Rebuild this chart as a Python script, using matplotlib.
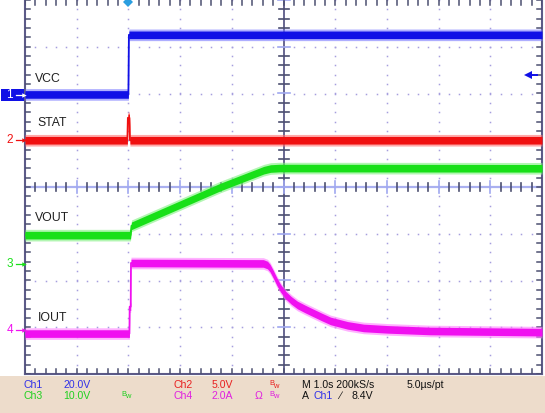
import numpy as np
import matplotlib
matplotlib.use("Agg")
import matplotlib.pyplot as plt
from matplotlib.patches import Rectangle

# ---------------- data (time in s from trigger, values in V / A) ----------------
vcc_t = [-2.0, 0.0, 0.01, 8.0]
vcc_v = [0.0, 0.0, 25.5, 25.5]

stat_t = [-2.0, -0.02, -0.01, 0.02, 0.03, 8.0]
stat_v = [0.0, 0.0, 2.4, 2.4, 0.0, 0.0]

vout_t = [-2.0, 0.04, 0.06, 1.78, 2.62, 2.75, 2.92, 8.0]
vout_v = [6.2, 6.2, 8.2, 16.5, 20.1, 20.45, 20.55, 20.5]

iout_t = [-2.0, 0.02, 0.025, 0.045, 0.05, 2.61, 2.69, 2.74, 2.80, 2.87, 2.94,
          3.04, 3.15, 3.27, 3.42, 3.58, 3.75, 3.91, 4.24, 4.55, 5.01, 5.84, 8.0]
iout_v = [-0.15, -0.15, 1.0, 1.0, 2.87, 2.85, 2.78, 2.65, 2.40, 2.08, 1.80,
          1.50, 1.27, 1.07, 0.90, 0.73, 0.55, 0.39, 0.20, 0.09, 0.03, -0.04, -0.09]

channels = ["Ch1", "Ch2", "Ch3", "Ch4"]
scales = [20.0, 5.0, 10.0, 2.0]          # per division
scale_labels = ["20.0V", "5.0V", "10.0V", "2.0A"]
offsets = [1.98, 1.0, -1.65, -3.06]       # ground marker, divisions
trace_names = ["VCC", "STAT", "VOUT", "IOUT"]
trig_level_label = "8.4V"
trig_level = 8.4

core = ["#1010e6", "#f01010", "#18e018", "#f010f0"]
edge = ["#7878ff", "#ff7070", "#80f080", "#ff80ff"]

W, H = 545, 413
fig = plt.figure(figsize=(W / 100, H / 100), dpi=100)
fig.patch.set_facecolor("white")

def fx(x):
    return x / W

def fy(y):
    return 1 - y / H

# beige info panel
fig.patches.append(Rectangle((0, 0), 1, fy(375.5), transform=fig.transFigure,
                             facecolor="#eddccb", edgecolor="none", zorder=0))

ax = fig.add_axes([fx(25), fy(374), (542 - 25) / W, 374 / H])
ax.set_xlim(-2, 8)
ax.set_ylim(-4, 4)
ax.axis("off")

px_x = 10 / 517.0   # data per pixel
px_y = 8 / 374.0

gridc = "#a69ede"
tickc = "#4c4f70"
# dotted grid
for gx in [-1, 0, 1, 2, 4, 5, 6, 7]:
    ys = np.arange(-4, 4.001, 0.2)
    ax.plot(np.full_like(ys, gx), ys, ls="none", marker="s", ms=1.1, mew=0,
            color=gridc, zorder=1)
for gy in [-3, -2, -1, 1, 2, 3]:
    xs = np.arange(-2, 8.001, 0.2)
    ax.plot(xs, np.full_like(xs, gy), ls="none", marker="s", ms=1.1, mew=0,
            color=gridc, zorder=1)

# center lines
ax.plot([-2, 8], [0, 0], color="#aab0f0", lw=1.6, zorder=2)
ax.plot([3, 3], [-4, 4], color="#5c5a88", lw=1.3, zorder=2)
for x in np.arange(-2, 8.001, 0.2):
    major = abs(x - round(x)) < 1e-6
    h = (6 if major else 4) * px_y
    ax.plot([x, x], [-h, h], color="#a0a8f0" if major else tickc, lw=1.2, zorder=2)
for y in np.arange(-4, 4.001, 0.2):
    major = abs(y - round(y)) < 1e-6
    w = (6 if major else 5) * px_x
    ax.plot([3 - w, 3 + w], [y, y], color="#a0a8f0" if major else tickc, lw=1.2, zorder=2)

# border with inward ticks
ax.plot([-2, -2], [-4, 4], color="#5c5a88", lw=1.5, zorder=2, clip_on=False)
ax.plot([8, 8], [-4, 4], color="#5c5a88", lw=1.5, zorder=2, clip_on=False)
ax.plot([-2, 8], [-4, -4], color="#5c5a88", lw=1.5, zorder=2, clip_on=False)
for x in np.arange(-2, 8.001, 0.2):
    ax.plot([x, x], [4, 4 - 5 * px_y], color=tickc, lw=1.1, zorder=2)
    ax.plot([x, x], [-4, -4 + 5 * px_y], color=tickc, lw=1.1, zorder=2)
for y in np.arange(-4, 4.001, 0.2):
    ax.plot([-2, -2 + 5 * px_x], [y, y], color=tickc, lw=1.1, zorder=2)
    ax.plot([8, 8 - 5 * px_x], [y, y], color=tickc, lw=1.1, zorder=2)

# traces
series = [(vcc_t, vcc_v), (stat_t, stat_v), (vout_t, vout_v), (iout_t, iout_v)]
for i, (t, v) in enumerate(series):
    t = np.asarray(t)
    y = offsets[i] + np.asarray(v) / scales[i]
    ax.fill_between(t, y - 5.8 * px_y, y + 5.8 * px_y, color=edge[i], lw=0,
                    alpha=0.6, zorder=3)
    ax.fill_between(t, y - 3.8 * px_y, y + 3.8 * px_y, color=core[i], lw=0,
                    zorder=4)
    ax.plot(t, y, color=core[i], lw=1.3, zorder=5)

# trace name labels
lab_pos = [(35, 79), (37, 123), (35, 218), (38, 318)]
for name, (x, y) in zip(trace_names, lab_pos):
    fig.text(fx(x), fy(y), name, fontsize=8.8, family="Liberation Sans",
             color="#202020", va="center", ha="left")

# channel ground markers at left
marker_y = [95, 140, 264, 330]
fig.patches.append(Rectangle((fx(1), fy(101)), fx(23), 12 / H,
                             transform=fig.transFigure, facecolor="#1010e6",
                             edgecolor="none"))
for i, y in enumerate(marker_y):
    c = "white" if i == 0 else core[i]
    fig.text(fx(13), fy(y), str(i + 1), fontsize=8.5, family="Liberation Sans",
             color=c, ha="right", va="center")
    fig.add_artist(plt.Line2D([fx(16), fx(22)], [fy(y), fy(y)], color=c, lw=0.9))
    fig.add_artist(plt.Line2D([fx(23.5)], [fy(y)], marker=">", ms=3.2, mew=0,
                              color=c, ls="none"))

# trigger position marker (top) and trigger level arrow (right)
fig.add_artist(plt.Line2D([fx(128)], [fy(2)], marker="D", ms=5, mew=0,
                          color="#2a9ee0", ls="none"))
lvl_y = offsets[0] + trig_level / scales[0]
ax.plot([7.72, 7.9], [lvl_y, lvl_y], color="#1010e6", lw=1.4, zorder=6)
ax.plot([7.72], [lvl_y], marker="<", ms=6, mew=0, color="#1010e6", zorder=6)

# info panel text
fs = 7.6
fam = "Liberation Sans"
r1, r2 = 385, 396
blue, red, green, mag = "#3030e8", "#e82020", "#20d020", "#e020e0"
def txt(x, y, s, c, size=fs):
    fig.text(fx(x), fy(y), s, fontsize=size, family=fam, color=c, va="center", ha="left")

def bw(x, y, c):
    fig.text(fx(x), fy(y - 1.5), "B", fontsize=5.4, family=fam, color=c, va="center")
    fig.text(fx(x + 4), fy(y + 1), "w", fontsize=5.4, family=fam, color=c, va="center")

txt(23, r1, channels[0], blue)
txt(63, r1, scale_labels[0], blue)
txt(173, r1, channels[1], red)
txt(212, r1, scale_labels[1], red)
bw(269, r1, red)
txt(302, r1, "M 1.0s 200kS/s", "#111111")
txt(407, r1, "5.0\u00b5s/pt", "#111111")

txt(23, r2, channels[2], green)
txt(63, r2, scale_labels[2], green)
bw(121, r2, green)
txt(173, r2, channels[3], mag)
txt(212, r2, scale_labels[3], mag)
txt(255, r2, "\u03a9", mag)
bw(269, r2, mag)
txt(302, r2, "A", "#111111")
txt(314, r2, channels[0], blue)
txt(339, r2, "\u2215", "#111111")
txt(352, r2, trig_level_label, "#111111")

fig.savefig("out.png", dpi=100)
